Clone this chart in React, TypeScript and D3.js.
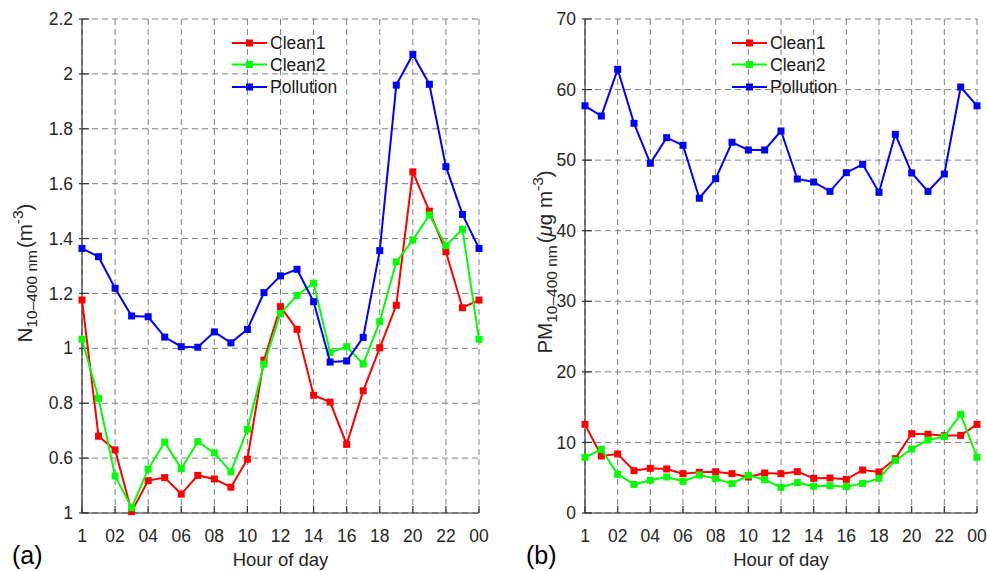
import React from 'react';
import * as d3 from 'd3';

const hours = [0, 1, 2, 3, 4, 5, 6, 7, 8, 9, 10, 11, 12, 13, 14, 15, 16, 17, 18, 19, 20, 21, 22, 23, 24];
const xTickValues = [0, 2, 4, 6, 8, 10, 12, 14, 16, 18, 20, 22, 24];
const xTickLabels = ['1', '02', '04', '06', '08', '10', '12', '14', '16', '18', '20', '22', '00'];

const nTickValues = [0.4, 0.6, 0.8, 1.0, 1.2, 1.4, 1.6, 1.8, 2.0, 2.2];
const nTickLabels = ['1', '0.6', '0.8', '1', '1.2', '1.4', '1.6', '1.8', '2', '2.2'];
const pmTickValues = [0, 10, 20, 30, 40, 50, 60, 70];
const pmTickLabels = ['0', '10', '20', '30', '40', '50', '60', '70'];

const seriesNames = ['Clean1', 'Clean2', 'Pollution'];
const seriesColors = ['#ff0000', '#00ff00', '#0000ff'];

const nClean1 = [1.176, 0.68, 0.63, 0.405, 0.518, 0.529, 0.469, 0.537, 0.524, 0.494, 0.596, 0.957, 1.152, 1.069, 0.829, 0.804, 0.65, 0.845, 1.002, 1.157, 1.643, 1.5, 1.352, 1.148, 1.176];
const nClean2 = [1.033, 0.818, 0.535, 0.419, 0.56, 0.658, 0.561, 0.66, 0.619, 0.55, 0.705, 0.942, 1.127, 1.193, 1.237, 0.985, 1.006, 0.943, 1.097, 1.315, 1.395, 1.486, 1.374, 1.434, 1.033];
const nPollution = [1.364, 1.334, 1.219, 1.118, 1.115, 1.041, 1.006, 1.004, 1.06, 1.02, 1.069, 1.203, 1.264, 1.288, 1.17, 0.95, 0.954, 1.04, 1.356, 1.959, 2.071, 1.962, 1.662, 1.488, 1.364];

const pmClean1 = [12.56, 8.08, 8.36, 6.0, 6.33, 6.24, 5.57, 5.76, 5.86, 5.57, 5.1, 5.67, 5.57, 5.86, 4.91, 4.96, 4.77, 6.09, 5.81, 7.7, 11.24, 11.15, 10.96, 11.0, 12.56];
const pmClean2 = [7.89, 9.02, 5.48, 4.06, 4.63, 5.1, 4.49, 5.39, 4.87, 4.16, 5.34, 4.72, 3.64, 4.3, 3.78, 3.87, 3.73, 4.2, 4.91, 7.46, 9.07, 10.34, 10.82, 13.98, 7.89];
const pmPollution = [57.7, 56.25, 62.87, 55.22, 49.55, 53.18, 52.1, 44.6, 47.37, 52.53, 51.44, 51.44, 54.13, 47.33, 46.9, 45.58, 48.22, 49.41, 45.44, 53.66, 48.18, 45.58, 48.04, 60.36, 57.7];

const FONT = '"Liberation Sans", Arial, Helvetica, sans-serif';
const AXIS = '#333333';
const GRID = '#808080';
const TICK_FS = 17.5;

type PanelProps = {
  x0: number; x1: number; yTop: number; yBot: number;
  domain: [number, number];
  yTicks: number[]; yTickLabels: string[];
  series: number[][];
  legendX: number;
  panelLabel: string;
  panelLabelX: number;
  yLabel: React.ReactNode;
};

function Panel(p: PanelProps) {
  const x = d3.scaleLinear().domain([0, 24]).range([p.x0, p.x1]);
  const y = d3.scaleLinear().domain(p.domain).range([p.yBot, p.yTop]);
  const line = d3.line<number>().x((_, i) => x(hours[i])).y((d) => y(d));
  const legendYs = [43, 64.5, 87];
  return (
    <g>
      {xTickValues.map((t) => (
        <line key={'gx' + t} x1={x(t)} x2={x(t)} y1={p.yTop} y2={p.yBot} stroke={GRID} strokeWidth={1} strokeDasharray="6,4" />
      ))}
      {p.yTicks.map((t) => (
        <line key={'gy' + t} x1={p.x0} x2={p.x1} y1={y(t)} y2={y(t)} stroke={GRID} strokeWidth={1} strokeDasharray="6,4" />
      ))}
      <line x1={p.x0} x2={p.x0} y1={p.yTop} y2={p.yBot} stroke={AXIS} strokeWidth={1.2} />
      <line x1={p.x0} x2={p.x1} y1={p.yBot} y2={p.yBot} stroke={AXIS} strokeWidth={1.2} />
      {xTickValues.map((t, i) => (
        <g key={'xt' + t}>
          <line x1={x(t)} x2={x(t)} y1={p.yBot} y2={p.yBot - 7} stroke={AXIS} strokeWidth={1.2} />
          <text x={x(t)} y={p.yBot + 29} textAnchor="middle" fontSize={TICK_FS} fill="#262626" fontFamily={FONT}>{xTickLabels[i]}</text>
        </g>
      ))}
      {p.yTicks.map((t, i) => (
        <g key={'yt' + t}>
          <line x1={p.x0 - 3} x2={p.x0 + 7} y1={y(t)} y2={y(t)} stroke={AXIS} strokeWidth={1.2} />
          <text x={p.x0 - 9} y={y(t)} dy="0.35em" textAnchor="end" fontSize={TICK_FS} fill="#262626" fontFamily={FONT}>{p.yTickLabels[i]}</text>
        </g>
      ))}
      {p.series.map((s, si) => (
        <g key={'s' + si}>
          <path d={line(s) || ''} fill="none" stroke={seriesColors[si]} strokeWidth={2} />
          {s.map((v, i) => (
            <rect key={i} x={x(hours[i]) - 3.5} y={y(v) - 3.5} width={7} height={7} fill={seriesColors[si]} />
          ))}
        </g>
      ))}
      {seriesNames.map((name, i) => (
        <g key={'lg' + name}>
          <line x1={p.legendX} x2={p.legendX + 35} y1={legendYs[i]} y2={legendYs[i]} stroke={seriesColors[i]} strokeWidth={2} />
          <rect x={p.legendX + 17.5 - 3.5} y={legendYs[i] - 3.5} width={7} height={7} fill={seriesColors[i]} />
          <text x={p.legendX + 38} y={legendYs[i]} dy="0.35em" fontSize={TICK_FS} fill="#1a1a1a" fontFamily={FONT}>{name}</text>
        </g>
      ))}
      <text x={(p.x0 + p.x1) / 2} y={566} textAnchor="middle" fontSize={18.5} fill="#262626" fontFamily={FONT}>Hour of day</text>
      <text x={p.panelLabelX} y={564} fontSize={25} fill="#000" fontFamily={FONT}>{p.panelLabel}</text>
      {p.yLabel}
    </g>
  );
}

export default function App() {
  const nLabel = (
    <text transform="translate(32,273) rotate(-90)" textAnchor="middle" fontSize={20.5} fill="#262626" fontFamily={FONT}>
      N<tspan dy={5} fontSize={15.5}>10–400 nm</tspan><tspan dy={-5} dx={2}>(m</tspan><tspan dy={-9} fontSize={15.5}>-3</tspan><tspan dy={9}>)</tspan>
    </text>
  );
  const pmLabel = (
    <text transform="translate(552,262) rotate(-90)" textAnchor="middle" fontSize={20.5} fill="#262626" fontFamily={FONT}>
      PM<tspan dy={5} fontSize={15.5}>10–400 nm</tspan><tspan dy={-5} dx={2}>(</tspan><tspan fontStyle="italic">μ</tspan><tspan>g m</tspan><tspan dy={-9} fontSize={15.5}>-3</tspan><tspan dy={9}>)</tspan>
    </text>
  );
  return (
    <svg width={987} height={571} style={{ position: 'absolute', left: 0, top: 0, background: '#fff' }}>
      <rect width={987} height={571} fill="#fff" />
      <Panel x0={82} x1={479} yTop={19} yBot={513} domain={[0.4, 2.2]} yTicks={nTickValues} yTickLabels={nTickLabels}
        series={[nClean1, nClean2, nPollution]} legendX={232} panelLabel="(a)" panelLabelX={12} yLabel={nLabel} />
      <Panel x0={585} x1={977} yTop={19} yBot={513} domain={[0, 70]} yTicks={pmTickValues} yTickLabels={pmTickLabels}
        series={[pmClean1, pmClean2, pmPollution]} legendX={732} panelLabel="(b)" panelLabelX={526} yLabel={pmLabel} />
    </svg>
  );
}
